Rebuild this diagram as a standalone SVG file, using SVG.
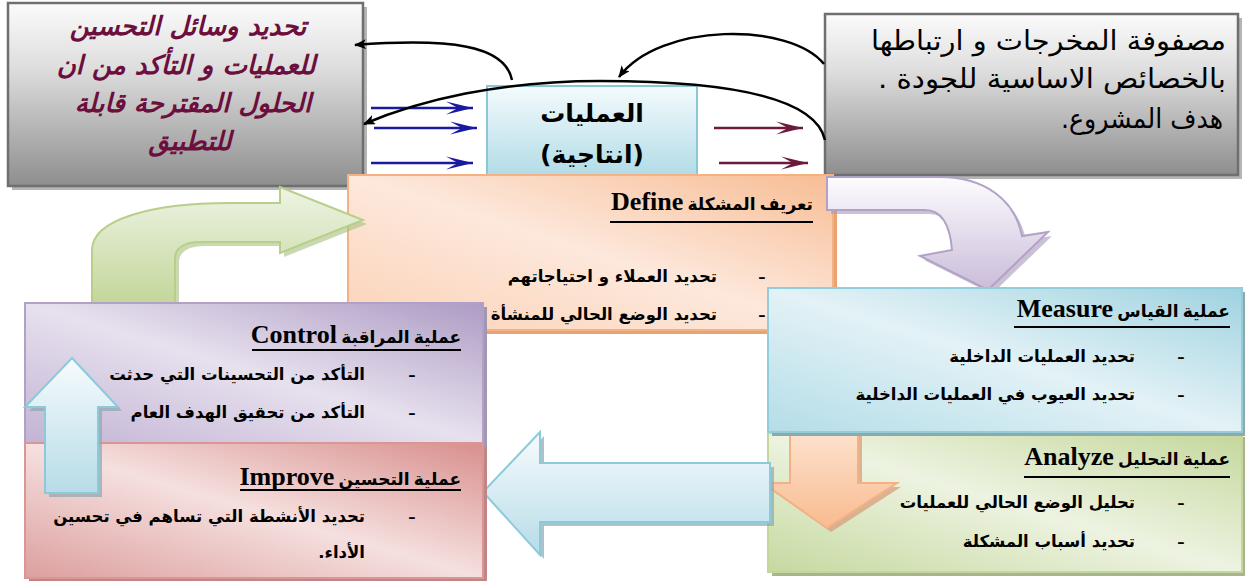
<svg xmlns="http://www.w3.org/2000/svg" width="1245" height="581" viewBox="0 0 1245 581">
  <defs>
    <linearGradient id="gGray" x1="0" y1="0" x2="0" y2="1">
      <stop offset="0" stop-color="#fbfbfb"/>
      <stop offset="0.35" stop-color="#dedede"/>
      <stop offset="1" stop-color="#8e8e8e"/>
    </linearGradient>
    <linearGradient id="gProc" x1="0" y1="0" x2="0" y2="1">
      <stop offset="0" stop-color="#f4fbfd"/>
      <stop offset="1" stop-color="#aad8e4"/>
    </linearGradient>
    <linearGradient id="gDefine" x1="1" y1="0" x2="0" y2="1">
      <stop offset="0" stop-color="#f7bd94"/>
      <stop offset="0.5" stop-color="#fde8dc"/>
      <stop offset="1" stop-color="#fbd2b6"/>
    </linearGradient>
    <linearGradient id="gMeasure" x1="1" y1="0" x2="0" y2="1">
      <stop offset="0" stop-color="#9fd2e0"/>
      <stop offset="0.5" stop-color="#e3f2f6"/>
      <stop offset="1" stop-color="#b4dde8"/>
    </linearGradient>
    <linearGradient id="gAnalyze" x1="1" y1="0" x2="0" y2="1">
      <stop offset="0" stop-color="#c4d79b"/>
      <stop offset="0.5" stop-color="#edf3e1"/>
      <stop offset="1" stop-color="#c6d9a0"/>
    </linearGradient>
    <linearGradient id="gControl" x1="1" y1="0" x2="0" y2="1">
      <stop offset="0" stop-color="#ad9bc4"/>
      <stop offset="0.5" stop-color="#e7e1ee"/>
      <stop offset="1" stop-color="#c2b3d4"/>
    </linearGradient>
    <linearGradient id="gImprove" x1="1" y1="0" x2="0" y2="1">
      <stop offset="0" stop-color="#d88f8d"/>
      <stop offset="0.5" stop-color="#f5e0df"/>
      <stop offset="1" stop-color="#dc9f9e"/>
    </linearGradient>
    <linearGradient id="gGreenArrow" x1="0" y1="0" x2="0" y2="1">
      <stop offset="0" stop-color="#eef4e4"/>
      <stop offset="1" stop-color="#c3d69b"/>
    </linearGradient>
    <linearGradient id="gPurpleArrow" x1="0" y1="0" x2="0" y2="1">
      <stop offset="0" stop-color="#fdfcfe"/>
      <stop offset="1" stop-color="#c9bcd9"/>
    </linearGradient>
    <linearGradient id="gOrangeArrow" x1="0" y1="0" x2="0" y2="1">
      <stop offset="0" stop-color="#fde3d0"/>
      <stop offset="1" stop-color="#f9bb8f"/>
    </linearGradient>
    <linearGradient id="gBlueArrow" x1="0" y1="0" x2="0" y2="1">
      <stop offset="0" stop-color="#f7fbfd"/>
      <stop offset="1" stop-color="#b6dce7"/>
    </linearGradient>
    <marker id="mBlack" markerWidth="12" markerHeight="10" refX="11" refY="5" orient="auto" markerUnits="userSpaceOnUse">
      <path d="M0,0 L12,5 L0,10 L3,5 Z" fill="#000"/>
    </marker>
    <marker id="mBlue" markerWidth="30" markerHeight="14" refX="29" refY="7" orient="auto" markerUnits="userSpaceOnUse">
      <path d="M2,0.5 L29,7 L2,13.5 L14,7 Z" fill="#1a1aa0"/>
    </marker>
    <marker id="mMaroon" markerWidth="30" markerHeight="14" refX="29" refY="7" orient="auto" markerUnits="userSpaceOnUse">
      <path d="M2,0.5 L29,7 L2,13.5 L14,7 Z" fill="#6b1a3c"/>
    </marker>
  </defs>
  <style>
    .note { font-family: "DejaVu Sans", "Liberation Sans", sans-serif; font-weight: bold; font-style: italic; font-size: 26px; fill: #6c0f3d; }
    .note2 { font-family: "DejaVu Sans", "Liberation Sans", sans-serif; font-size: 27px; fill: #000; }
    .proc { font-family: "DejaVu Sans", "Liberation Sans", sans-serif; font-weight: bold; font-size: 25px; fill: #000; }
    .ttl { font-family: "Liberation Serif", "DejaVu Sans", serif; font-weight: bold; font-size: 17px; fill: #000; }
    .ttl .en { font-size: 26px; }
    .item { font-family: "DejaVu Sans", "Liberation Serif", sans-serif; font-weight: bold; font-size: 16.5px; fill: #000; }
    .dash { font-family: "Liberation Serif", serif; font-weight: bold; font-size: 22px; fill: #000; }
    .ul { stroke: #000; stroke-width: 2; }
    .conn { fill: none; stroke: #000; stroke-width: 2.5; }
    .flowIn { stroke: #1a1aa0; stroke-width: 2.5; }
    .flowOut { stroke: #6b1a3c; stroke-width: 2.5; }
  </style>

  <!-- top right note -->
  <g id="outputs-note">
    <rect x="829" y="18" width="413" height="161" fill="#b5b5b5"/>
    <rect x="825" y="14" width="413" height="161" fill="url(#gGray)" stroke="#6f6f6f" stroke-width="2.5"/>
    <text class="note2" x="1226" y="50" direction="rtl" text-anchor="start" textLength="355" lengthAdjust="spacingAndGlyphs">مصفوفة المخرجات و ارتباطها</text>
    <text class="note2" x="1226" y="88" direction="rtl" text-anchor="start" textLength="348" lengthAdjust="spacingAndGlyphs">بالخصائص الاساسية للجودة .</text>
    <text class="note2" x="1223" y="128" direction="rtl" text-anchor="start" textLength="162" lengthAdjust="spacingAndGlyphs">هدف المشروع.</text>
  </g>

  <!-- top left note -->
  <g id="tools-note">
    <rect x="12" y="7" width="355" height="183" fill="#b5b5b5"/>
    <rect x="8" y="3" width="355" height="183" fill="url(#gGray)" stroke="#6f6f6f" stroke-width="2.5"/>
    <text class="note" x="188" y="35" text-anchor="middle" direction="rtl">تحديد وسائل التحسين</text>
    <text class="note" x="186" y="74" text-anchor="middle" direction="rtl">للعمليات و التأكد من ان</text>
    <text class="note" x="193" y="112" text-anchor="middle" direction="rtl">الحلول المقترحة قابلة</text>
    <text class="note" x="190" y="150" text-anchor="middle" direction="rtl">للتطبيق</text>
  </g>

  <!-- production process -->
  <g id="process">
    <rect x="487" y="86" width="210" height="100" fill="url(#gProc)" stroke="#8cc6d6" stroke-width="2"/>
    <text class="proc" x="592" y="122" text-anchor="middle" direction="rtl">العمليات</text>
    <text class="proc" x="592" y="163" text-anchor="middle" direction="rtl">(انتاجية)</text>
  </g>

  <!-- connectors -->
  <g id="connectors">
    <line class="flowIn" x1="371" y1="108" x2="473" y2="108" marker-end="url(#mBlue)"/>
    <line class="flowIn" x1="374" y1="128" x2="477" y2="128" marker-end="url(#mBlue)"/>
    <line class="flowIn" x1="371" y1="163" x2="473" y2="163" marker-end="url(#mBlue)"/>
    <line class="flowOut" x1="714" y1="128" x2="803" y2="128" marker-end="url(#mMaroon)"/>
    <line class="flowOut" x1="719" y1="163" x2="808" y2="163" marker-end="url(#mMaroon)"/>
    <path class="conn" d="M512,80 C505,45 450,38 355,45" marker-end="url(#mBlack)"/>
    <path class="conn" d="M824,64 C790,22 660,22 619,77" marker-end="url(#mBlack)"/>
    <path class="conn" d="M825,140 C815,95 720,81 600,81 C500,81 420,100 364,124" marker-end="url(#mBlack)"/>
  </g>

  <!-- Define -->
  <g id="define">
    <rect x="352" y="179" width="485" height="155" fill="#e8a373"/>
    <rect x="348" y="175" width="485" height="155" fill="url(#gDefine)" stroke="#f4b183" stroke-width="2"/>
    <text class="ttl" x="813" y="210" direction="rtl" text-anchor="start">تعريف المشكلة <tspan class="en">Define</tspan></text>
    <line class="ul" x1="610" y1="222" x2="813" y2="222"/>
    <text class="dash" x="762" y="283" text-anchor="middle">-</text>
    <text class="item" x="717" y="282" direction="rtl" text-anchor="start">تحديد العملاء و احتياجاتهم</text>
    <text class="dash" x="762" y="321" text-anchor="middle">-</text>
    <text class="item" x="717" y="320" direction="rtl" text-anchor="start">تحديد الوضع الحالي للمنشأة</text>
  </g>

  <!-- Control to Define -->
  <g id="arrow-to-define">
    <path d="M96,307 L96,254 C96,224 154,207 234,207 L284,207 L284,191 L367,224 L284,257 L284,246 L204,246 C189,246 179,252 179,262 L179,307 Z" fill="#a9bf7e" opacity="0.6"/>
    <path d="M92,303 L92,250 C92,220 150,203 230,203 L280,203 L280,187 L363,220 L280,253 L280,242 L200,242 C185,242 175,248 175,258 L175,303 Z" fill="url(#gGreenArrow)" stroke="#b7cf8a" stroke-width="2"/>
  </g>

  <!-- Define to Measure -->
  <g id="arrow-to-measure">
    <path d="M831,181 L944,181 C989,181 1019,204 1026,240 L1052,236 L992,294 L924,260 L956,254 C954,229 946,214 929,214 L831,214 Z" fill="#a898bd" opacity="0.6"/>
    <path d="M827,177 L940,177 C985,177 1015,200 1022,236 L1048,232 L988,290 L920,256 L952,250 C950,225 942,210 925,210 L827,210 Z" fill="url(#gPurpleArrow)" stroke="#b3a2c7" stroke-width="2"/>
  </g>

  <!-- Analyze -->
  <g id="analyze">
    <rect x="772" y="437" width="474" height="139" fill="#a7b48f"/>
    <rect x="768" y="433" width="474" height="139" fill="url(#gAnalyze)" stroke="#c4d79b" stroke-width="2"/>
    <text class="ttl" x="1230" y="465" direction="rtl" text-anchor="start">عملية التحليل <tspan class="en">Analyze</tspan></text>
    <line class="ul" x1="1024" y1="477" x2="1230" y2="477"/>
    <text class="dash" x="1181" y="509" text-anchor="middle">-</text>
    <text class="item" x="1135" y="508" direction="rtl" text-anchor="start">تحليل الوضع الحالي للعمليات</text>
    <text class="dash" x="1181" y="548" text-anchor="middle">-</text>
    <text class="item" x="1135" y="547" direction="rtl" text-anchor="start">تحديد أسباب المشكلة</text>
  </g>

  <!-- Measure to Analyze -->
  <g id="arrow-to-analyze">
    <path d="M794,434 L862,434 L862,487 L901,487 L831,532 L767,487 L794,487 Z" fill="#d49a78" opacity="0.7"/>
    <path d="M790,430 L858,430 L858,483 L897,483 L827,528 L763,483 L790,483 Z" fill="url(#gOrangeArrow)" stroke="#f4b183" stroke-width="2"/>
  </g>

  <!-- Measure -->
  <g id="measure">
    <rect x="772" y="292" width="474" height="144" fill="#8fa9a9"/>
    <rect x="768" y="288" width="474" height="144" fill="url(#gMeasure)" stroke="#92cddc" stroke-width="2"/>
    <text class="ttl" x="1230" y="317" direction="rtl" text-anchor="start">عملية القياس <tspan class="en">Measure</tspan></text>
    <line class="ul" x1="1014" y1="327" x2="1230" y2="327"/>
    <text class="dash" x="1181" y="363" text-anchor="middle">-</text>
    <text class="item" x="1135" y="362" direction="rtl" text-anchor="start">تحديد العمليات الداخلية</text>
    <text class="dash" x="1181" y="401" text-anchor="middle">-</text>
    <text class="item" x="1135" y="400" direction="rtl" text-anchor="start">تحديد العيوب في العمليات الداخلية</text>
  </g>

  <!-- Analyze to Improve -->
  <g id="arrow-to-improve">
    <path d="M487,496 L544,436 L544,467 L774,467 L774,526 L544,526 L544,559 Z" fill="#8fa6ad" opacity="0.7"/>
    <path d="M483,492 L540,432 L540,463 L770,463 L770,522 L540,522 L540,555 Z" fill="url(#gBlueArrow)" stroke="#8ccadb" stroke-width="2"/>
  </g>

  <!-- Control -->
  <g id="control">
    <rect x="29" y="307" width="458" height="140" fill="#a396b3"/>
    <rect x="25" y="303" width="458" height="140" fill="url(#gControl)" stroke="#b2a1c7" stroke-width="2"/>
    <text class="ttl" x="461" y="343" direction="rtl" text-anchor="start">عملية المراقبة <tspan class="en">Control</tspan></text>
    <line class="ul" x1="252" y1="350" x2="461" y2="350"/>
    <text class="dash" x="412" y="381" text-anchor="middle">-</text>
    <text class="item" x="365" y="380" direction="rtl" text-anchor="start">التأكد من التحسينات التي حدثت</text>
    <text class="dash" x="412" y="419" text-anchor="middle">-</text>
    <text class="item" x="365" y="418" direction="rtl" text-anchor="start">التأكد من تحقيق الهدف العام</text>
  </g>

  <!-- Improve -->
  <g id="improve">
    <rect x="29" y="447" width="458" height="135" fill="#c08584"/>
    <rect x="25" y="443" width="458" height="135" fill="url(#gImprove)" stroke="#d99694" stroke-width="2"/>
    <text class="ttl" x="461" y="485" direction="rtl" text-anchor="start">عملية التحسين  <tspan class="en">Improve</tspan></text>
    <line class="ul" x1="240" y1="490" x2="461" y2="490"/>
    <text class="dash" x="412" y="523" text-anchor="middle">-</text>
    <text class="item" x="365" y="522" direction="rtl" text-anchor="start">تحديد الأنشطة التي تساهم في تحسين</text>
    <text class="item" x="365" y="558" direction="rtl" text-anchor="start">الأداء.</text>
  </g>

  <!-- Improve to Control -->
  <g id="arrow-to-control">
    <path d="M76,362 L122,411 L102,411 L102,497 L49,497 L49,411 L29,411 Z" fill="#8fa6ad" opacity="0.7"/>
    <path d="M72,358 L118,407 L98,407 L98,493 L45,493 L45,407 L25,407 Z" fill="url(#gBlueArrow)" stroke="#8ccadb" stroke-width="2"/>
  </g>
</svg>
